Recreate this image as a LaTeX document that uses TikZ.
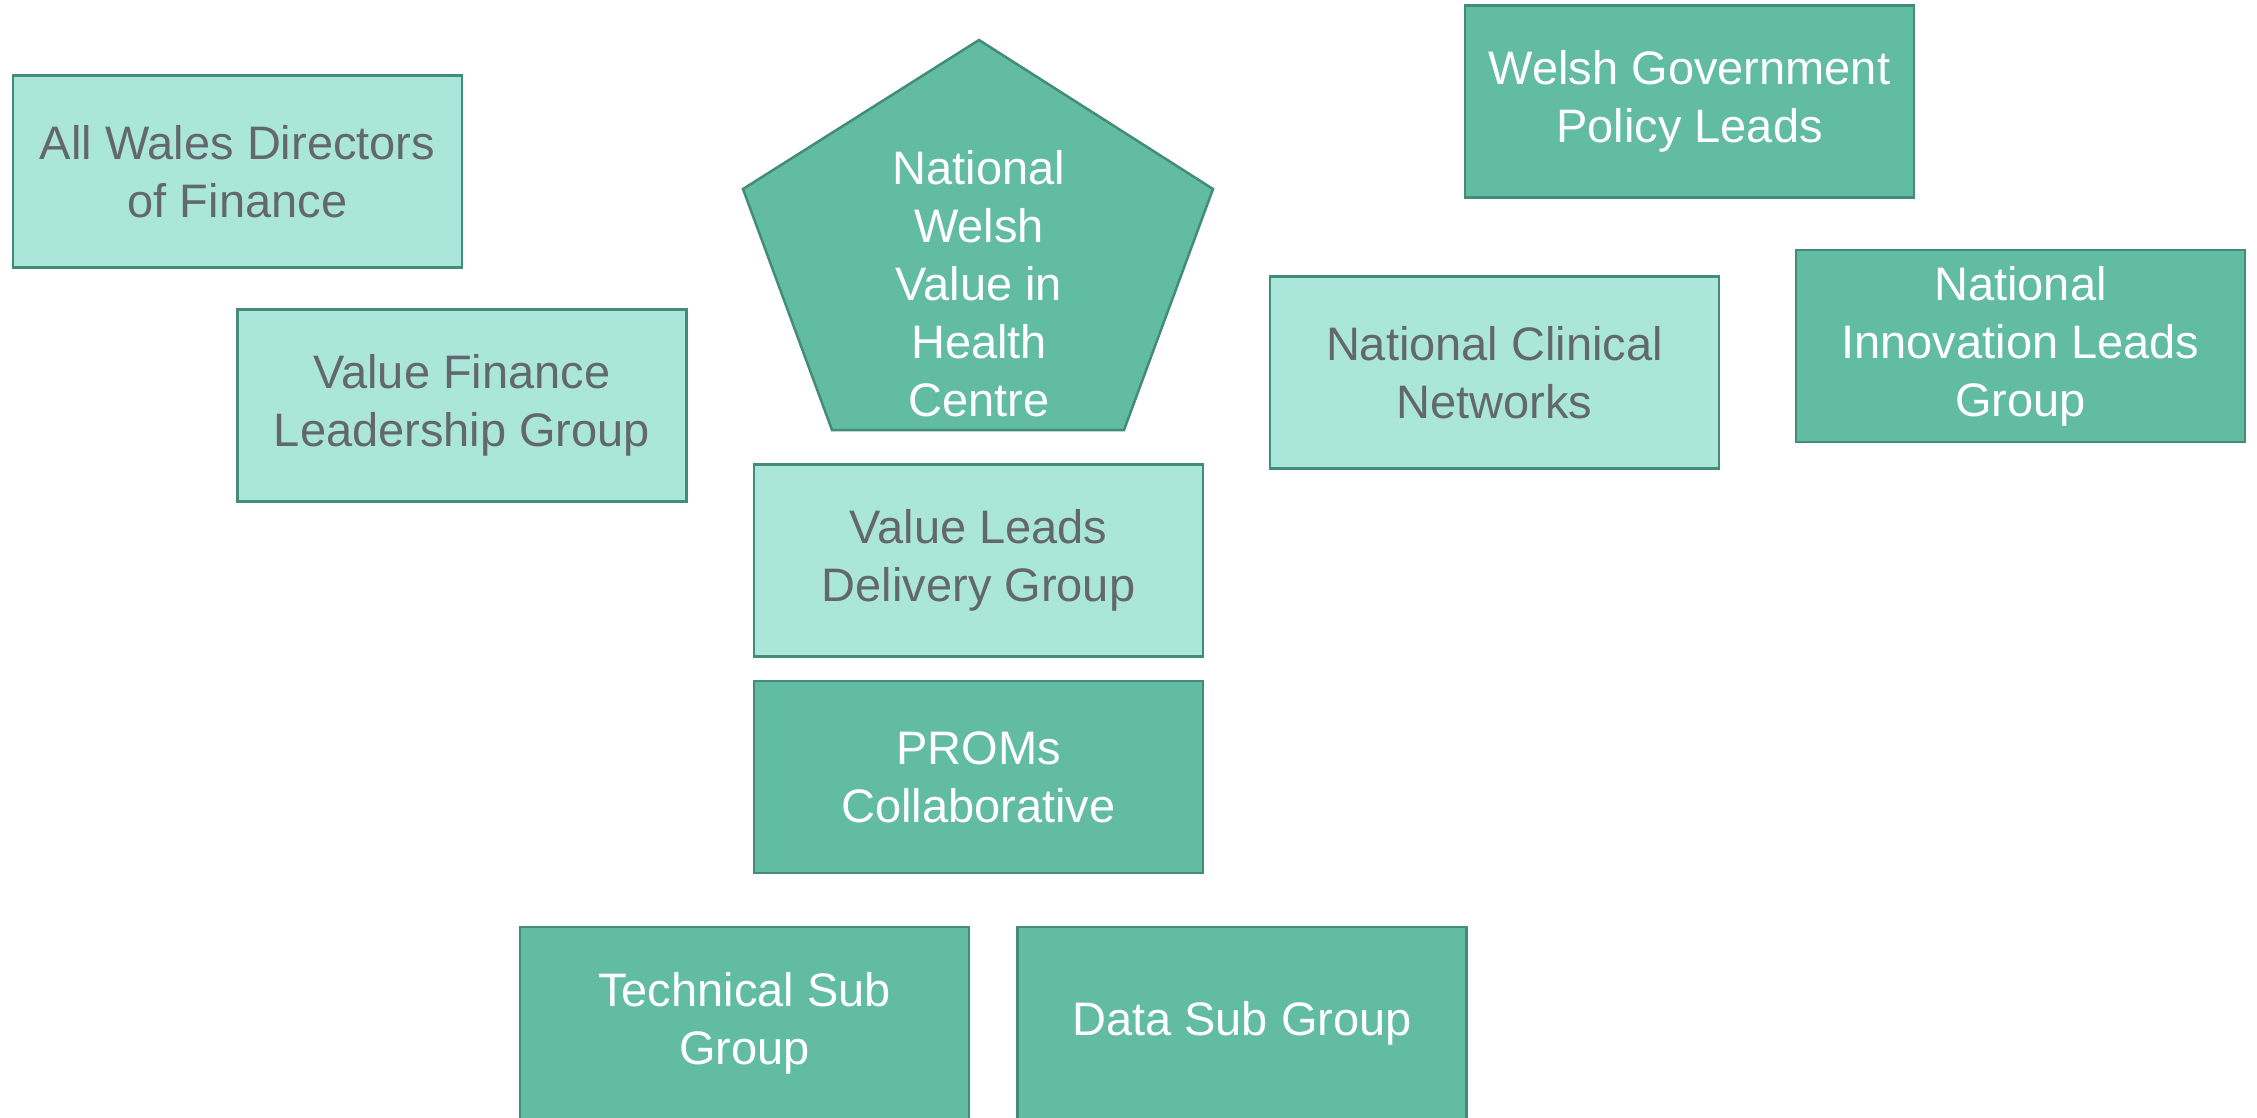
\documentclass[tikz,border=0pt]{standalone}
\usepackage{fontspec}
\setmainfont{Liberation Sans}
\usetikzlibrary{positioning}
\definecolor{vlight}{HTML}{ABE6DB}
\definecolor{vdark}{HTML}{61BCA2}
\definecolor{vedge}{HTML}{438C77}
\definecolor{vtext}{HTML}{636870}
\tikzset{
    vfont/.style={font=\fontsize{47}{58}\selectfont},
    vbox/.style={draw=vedge, line width=2.5pt, minimum width=449pt, minimum height=192pt,
        inner sep=0pt, align=center, vfont},
    lightbox/.style={vbox, fill=vlight, text=vtext},
    darkbox/.style={vbox, fill=vdark, text=white}
}

\begin{document}
\begin{tikzpicture}[x=1pt, y=-1pt]
    \useasboundingbox (0, 0) rectangle (2257, 1117);
    % centre
    \draw[draw=vedge, fill=vdark, line width=2.5pt]
        (979, 40) -- (1213, 189) -- (1124, 430) -- (832, 430) -- (743, 189) -- cycle;
    \node[align=center, text=white, vfont] (nwvhc) at (979, 284)
        {National\\Welsh\\Value in\\Health\\Centre};
    \node[lightbox] (vldg) at (978.5, 560.5) {Value Leads\\Delivery Group};
    \node[darkbox, below=22pt of vldg] (proms) {PROMs\\Collaborative};
    \node[darkbox] (tsg) at (744.5, 1023) {Technical Sub\\Group};
    \node[darkbox, right=46pt of tsg] (dsg) {Data Sub Group};
    % left
    \node[lightbox] (awdf) at (237.5, 171.5) {All Wales Directors\\of Finance};
    \node[lightbox] (vflg) at (462, 405.5) {Value Finance\\Leadership Group};
    % right
    \node[darkbox] (wgpl) at (1689.5, 101.5) {Welsh Government\\Policy Leads};
    \node[lightbox] (ncn) at (1494.5, 372.5) {National Clinical\\Networks};
    \node[darkbox] (nilg) at (2020.5, 346) {National\\Innovation Leads\\Group};
\end{tikzpicture}
\end{document}
